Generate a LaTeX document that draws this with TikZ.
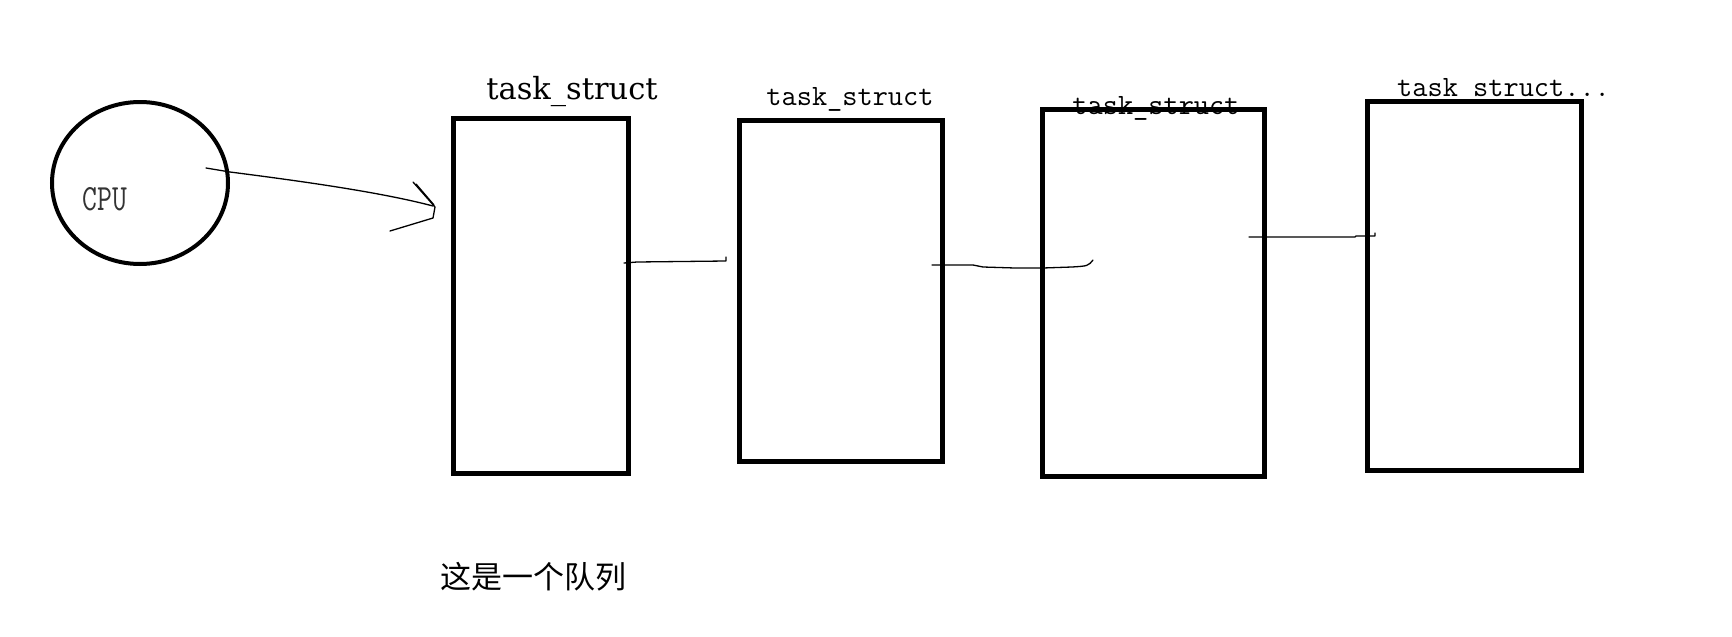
\documentclass[tikz,border=0pt]{standalone}
\usepackage{fontspec}
\newfontfamily\cjkfont{Noto Sans CJK SC}
\newfontfamily\titlefont{DejaVu Serif}
\usetikzlibrary{positioning,calc,shapes.geometric}

\begin{document}
\begin{tikzpicture}[
    x=1pt, y=-1pt,
    cpuring/.style={
      ellipse,
      draw,
      line width=4pt,
      minimum width=176pt,
      minimum height=162pt,
      inner sep=0pt
    },
    taskbox/.style={
      draw,
      line width=5pt,
      inner sep=0pt
    },
    tasktitle/.style={
      inner sep=0pt,
      anchor=base,
      font=\titlefont\fontsize{30.5}{36}\selectfont
    },
    tasklabel/.style={
      inner sep=0pt,
      anchor=base,
      font=\ttfamily\fontsize{29.5}{34}\selectfont
    },
    handline/.style={
      line width=1.3pt,
      line join=round,
      line cap=round
    }
  ]
  \useasboundingbox (0,0) rectangle (1732,637);

  % CPU
  \node[cpuring] (cpu) at (140,183) {};
  \node[inner sep=0pt, text=black!80, font=\ttfamily\fontsize{37}{40}\selectfont] (cputext) at (105,199) {\scalebox{0.78}[1]{CPU}};

  % 标题
  \node[tasktitle] (title1) at (572,99) {task\_struct};
  \node[tasklabel] (title2) at (850,105) {task\_struct};
  \node[tasklabel] (title3) at (1156,114) {task\_struct};
  \node[tasklabel, anchor=base west] (title4) at (1397,96) {task\_struct...};

  % 队列
  \node[taskbox, minimum width=175pt, minimum height=355pt] (task1) at (540.5,295.5) {};
  \node[taskbox, minimum width=203pt, minimum height=341pt] (task2) at (840.5,290.5) {};
  \node[taskbox, minimum width=222pt, minimum height=367pt] (task3) at (1153,292.5) {};
  \node[taskbox, minimum width=214pt, minimum height=369pt] (task4) at (1474,285.5) {};

  \node[font=\cjkfont\fontsize{31}{36}\selectfont, inner sep=0pt] (note) at (533,577) {这是一个队列};

  % CPU -> task1
  \coordinate (cpuOut) at (206,168);
  \coordinate (taskIn) at (433,206);
  \draw[handline] (cpuOut) -- (230,172) .. controls (300,181) and (380,192) .. (taskIn);
  \draw[handline] (413,182) -- (435,207) -- (433,218) -- (390,231);
  \draw[handline] (416,184) -- (434,205);

  % 链接
  \coordinate (linkA) at (624,263);
  \coordinate (linkB) at (726,257);
  \draw[handline] (linkA) -- (637,262) -- (726,261) -- (linkB);

  \coordinate (linkC) at (932,265);
  \coordinate (linkD) at (1093,260);
  \draw[handline] (linkC) -- (973,265) -- (983,267) -- (1015,268) -- (1043,268) -- (1072,267) .. controls (1088,266) .. (linkD);

  \coordinate (linkE) at (1249,237);
  \coordinate (linkF) at (1375,233);
  \draw[handline] (linkE) -- (1355,237) -- (1356,236) -- (1375,236) -- (linkF);

\end{tikzpicture}
\end{document}
